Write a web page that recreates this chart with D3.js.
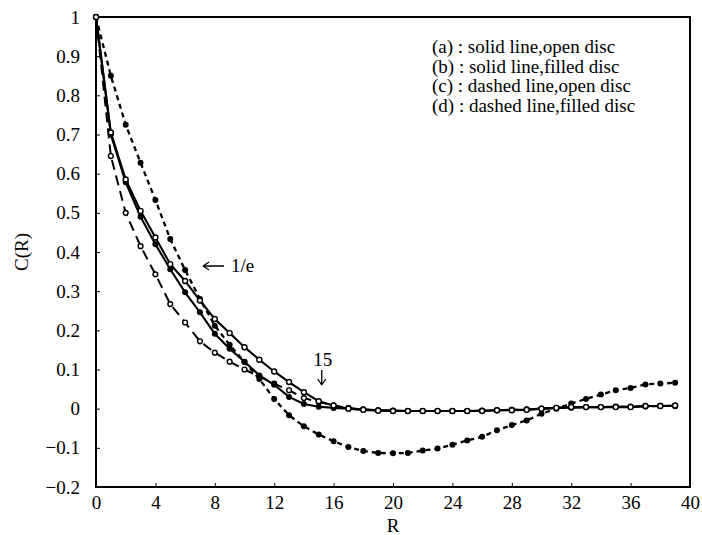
<!DOCTYPE html>
<html><head><meta charset="utf-8">
<script src="https://cdn.jsdelivr.net/npm/d3@7"></script>
<style>body{margin:0;background:#fff}svg{display:block}text{font-family:"Liberation Serif","DejaVu Serif",serif;fill:#000}</style>
</head><body><svg id="c" width="702" height="535"></svg>
<script>
const R = [0,1,2,3,4,5,6,7,8,9,10,11,12,13,14,15,16,17,18,19,20,21,22,23,24,25,26,27,28,29,30,31,32,33,34,35,36,37,38,39];
const seriesA = [1.0,0.705,0.585,0.505,0.437,0.369,0.326,0.276,0.229,0.193,0.157,0.125,0.095,0.068,0.042,0.019,0.008,0.0,-0.003,-0.005,-0.006,-0.006,-0.006,-0.006,-0.006,-0.006,-0.006,-0.004,-0.004,-0.003,0.0,0.002,0.004,0.004,0.004,0.004,0.004,0.007,0.007,0.008];
const seriesB = [1.0,0.70,0.578,0.49,0.42,0.356,0.297,0.246,0.191,0.153,0.12,0.085,0.061,0.03,0.012,0.005,0.002,0.0,-0.002,-0.004,-0.005,-0.006,-0.006,-0.006,-0.006,-0.006,-0.005,-0.004,-0.003,-0.002,0.0,0.002,0.003,0.004,0.004,0.005,0.005,0.006,0.007,0.007];
const seriesC = [1.0,0.645,0.50,0.415,0.343,0.267,0.22,0.172,0.143,0.12,0.10,0.082,0.064,0.047,0.027,0.017,0.008,0.002,-0.002,-0.004,-0.005,-0.006,-0.006,-0.006,-0.006,-0.006,-0.005,-0.004,-0.003,-0.002,0.0,0.002,0.003,0.004,0.004,0.005,0.005,0.006,0.007,0.007];
const seriesD = [1.0,0.85,0.725,0.628,0.533,0.433,0.354,0.28,0.212,0.163,0.119,0.076,0.025,-0.017,-0.045,-0.066,-0.083,-0.098,-0.108,-0.113,-0.114,-0.113,-0.107,-0.102,-0.092,-0.081,-0.072,-0.055,-0.042,-0.030,-0.013,0.0,0.013,0.025,0.036,0.047,0.053,0.062,0.064,0.066];
const xTicks = [0,4,8,12,16,20,24,28,32,36,40];
const yTicks = [-0.2,-0.1,0,0.1,0.2,0.3,0.4,0.5,0.6,0.7,0.8,0.9,1];
const legendLines = ["(a) : solid line,open disc","(b) : solid line,filled disc","(c) : dashed line,open disc","(d) : dashed line,filled disc"];

const svg = d3.select("#c");
const x = d3.scaleLinear().domain([0,40]).range([96,690]);
const y = d3.scaleLinear().domain([-0.2,1]).range([487,17]);
const FS = "19px";

svg.append("rect").attr("x",x(0)).attr("y",y(1)).attr("width",x(40)-x(0)).attr("height",y(-0.2)-y(1))
  .attr("fill","none").attr("stroke","#000").attr("stroke-width",2);

const yAxis = d3.axisLeft(y).tickValues(yTicks).tickSize(-4).tickPadding(16)
  .tickFormat(d => d3.format("")(Math.round(d*10)/10));
const gy = svg.append("g").attr("transform",`translate(${x(0)},0)`).call(yAxis);
const xAxis = d3.axisBottom(x).tickValues(xTicks).tickSize(-4).tickPadding(9);
const gx = svg.append("g").attr("transform",`translate(0,${y(-0.2)})`).call(xAxis);
[gy,gx].forEach(g=>{g.select(".domain").remove();g.selectAll(".tick line").attr("stroke","#000").attr("stroke-width",1);
  g.selectAll(".tick text").style("font-size",FS).style("font-family","Liberation Serif");});

svg.append("text").attr("transform",`translate(28,${y(0.4)}) rotate(-90)`).attr("text-anchor","middle")
  .style("font-size",FS).text("C(R)");
svg.append("text").attr("x",x(20)).attr("y",532).attr("text-anchor","middle").style("font-size",FS).text("R");

const line = d3.line().x((d,i)=>x(R[i])).y(d=>y(d));
const cfg = [
  {data:seriesD, dash:"5,4", w:2.3, open:false, r:3},
  {data:seriesC, dash:"10,6", w:2, open:true, r:2.4},
  {data:seriesB, dash:null, w:2.1, open:false, r:3},
  {data:seriesA, dash:null, w:2.1, open:true, r:2.5},
];
cfg.forEach(c=>{
  svg.append("path").datum(c.data).attr("d",line).attr("fill","none").attr("stroke","#000")
    .attr("stroke-width",c.w).attr("stroke-dasharray",c.dash);
  svg.append("g").selectAll("circle").data(c.data).join("circle")
    .attr("cx",(d,i)=>x(R[i])).attr("cy",d=>y(d)).attr("r",c.r)
    .attr("fill",c.open?"#fff":"#000").attr("stroke","#000").attr("stroke-width",c.open?1.4:0);
});

svg.append("g").selectAll("text").data(legendLines).join("text")
  .attr("x",432).attr("y",(d,i)=>53+i*19.5).style("font-size",FS).text(d=>d);

svg.append("text").attr("x",231).attr("y",272).style("font-size",FS).text("1/e");
svg.append("path").attr("d","M203,266 H224 M203,266 l6,-4 M203,266 l6,4").attr("stroke","#000").attr("stroke-width",1.3).attr("fill","none");
svg.append("text").attr("x",x(15)+4).attr("y",366).attr("text-anchor","middle").style("font-size",FS).text("15");
const ax = x(15)+3;
svg.append("path").attr("d",`M${ax},370 V385 M${ax},385 l-4,-6 M${ax},385 l4,-6`).attr("stroke","#000").attr("stroke-width",1.3).attr("fill","none");
</script></body></html>
